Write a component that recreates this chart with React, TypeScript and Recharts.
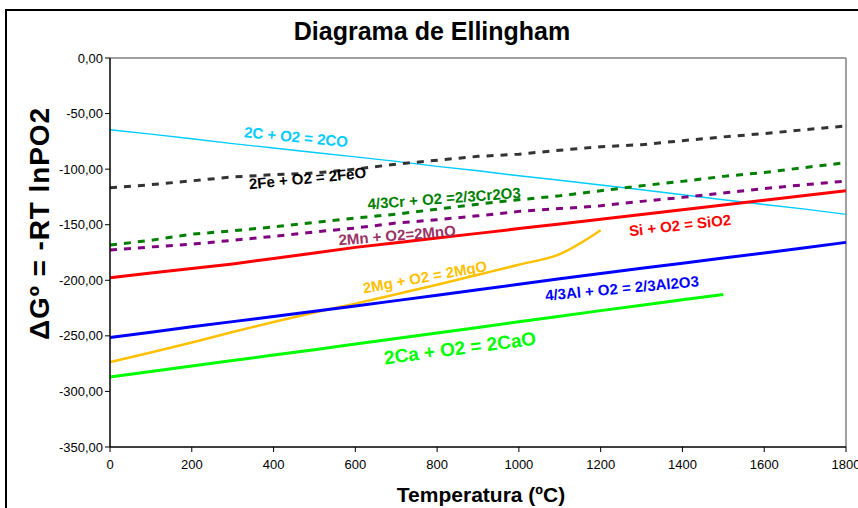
import React from 'react';
import { LineChart, Line, XAxis, YAxis, ReferenceLine, ReferenceDot, Customized } from 'recharts';

const temperatures = [0, 100, 200, 300, 400, 500, 600, 700, 800, 900, 1000, 1100, 1200, 1300, 1400, 1500, 1600, 1700, 1800];

const carbonCO = [-64.5, -68.5, -72.6, -77, -81, -85, -89, -93, -97.5, -101.5, -106, -110, -114.3, -118.6, -123, -127.5, -131.8, -136, -140.7];
const ironFeO = [-116.7, -114, -110.5, -107, -105, -103.5, -100, -95.5, -92, -88.5, -86.5, -83, -79.8, -78, -74.4, -71, -68, -64.5, -61.2];
const chromiumCr2O3 = [-168.3, -164, -158.5, -155.5, -152, -148, -144, -140.5, -136, -131.5, -127.5, -124, -119.4, -115, -111, -106.5, -103, -98.5, -94.2];
const manganeseMnO = [-172.8, -170, -167.5, -164, -160.5, -156.5, -153, -148.5, -145.5, -142, -138, -135.5, -133, -129, -125.4, -121.5, -117.5, -114, -110.7];
const siliconSiO2 = [-197.7, -193.5, -189.4, -185.3, -180.4, -175.4, -170.4, -166.2, -162, -157.8, -153.5, -149.3, -145.1, -140.8, -136.6, -132.3, -128, -123.7, -119.4];
const magnesiumMgO = [-273.6, -265, -256, -246.5, -237.5, -229, -221, -212.5, -204, -195, -186, -176.5, -155];
const aluminiumAl2O3 = [-251.4, -246.7, -241.9, -237.2, -232.5, -227.9, -223.2, -218.3, -213.4, -208.5, -203.6, -198.7, -193.8, -189.2, -184.7, -180, -175.4, -170.8, -165.9];
const calciumCaO = [-287.1, -282.1, -277.2, -272.2, -267.3, -262.4, -257.4, -252.4, -247.4, -242.4, -237.4, -232.3, -227.3, -222.4, -217.6, -212.7];

const xTicks = [0, 200, 400, 600, 800, 1000, 1200, 1400, 1600, 1800];
const yTicks = [0, -50, -100, -150, -200, -250, -300, -350];

const data = temperatures.map((t, i) => ({
  t,
  co: carbonCO[i],
  fe: ironFeO[i],
  cr: chromiumCr2O3[i],
  mn: manganeseMnO[i],
  si: siliconSiO2[i],
  mg: magnesiumMgO[i],
  al: aluminiumAl2O3[i],
  ca: calciumCaO[i],
}));

const FONT = '"Liberation Sans", Arial, sans-serif';

const lineLabels = [
  { text: '2C + O2 = 2CO', t: 455, v: -70.8, color: '#00CCFF', angle: 5.3, size: 15 },
  { text: '2Fe + O2 = 2FeO', t: 483, v: -108, color: '#000000', angle: -5.7, size: 15 },
  { text: '4/3Cr + O2 =2/3Cr2O3', t: 817, v: -126, color: '#008000', angle: -4.3, size: 15 },
  { text: '2Mn + O2=2MnO', t: 702, v: -159.3, color: '#993366', angle: -4.7, size: 15 },
  { text: 'Si + O2 = SiO2', t: 1394, v: -150.3, color: '#FF0000', angle: -6.5, size: 15 },
  { text: '2Mg + O2 = 2MgO', t: 770, v: -196.8, color: '#FFC000', angle: -10.3, size: 15 },
  { text: '4/3Al + O2 = 2/3Al2O3', t: 1252, v: -207, color: '#0000FF', angle: -5.4, size: 15 },
  { text: '2Ca + O2 = 2CaO', t: 856, v: -261, color: '#00FF00', angle: -7.4, size: 19 },
];

const fmtY = (v: number) => v.toFixed(2).replace('.', ',');

const Titles = () => (
  <g fontFamily={FONT} fontWeight="bold" fill="#000">
    <text x={432} y={40} fontSize={25} textAnchor="middle">Diagrama de Ellingham</text>
    <text x={481} y={502} fontSize={21} textAnchor="middle">Temperatura (ºC)</text>
    <text
      x={0}
      y={0}
      fontSize={28}
      textAnchor="middle"
      textLength={232}
      lengthAdjust="spacing"
      transform="translate(49,224) rotate(-90)"
    >
      ΔGº = -RT lnPO2
    </text>
  </g>
);

export default function App() {
  return (
    <div style={{ position: 'absolute', left: 0, top: 0, width: 858, height: 508, overflow: 'hidden', background: '#fff' }}>
      <div style={{ position: 'absolute', left: 5, top: 9, width: 900, height: 600, border: '2px solid #000', boxSizing: 'border-box' }} />
      <div style={{ position: 'absolute', left: 0, top: 0 }}>
        <LineChart width={858} height={508} data={data} margin={{ top: 58, right: 12, bottom: 31, left: 0 }}>
          <XAxis
            dataKey="t"
            type="number"
            domain={[0, 1800]}
            ticks={xTicks}
            height={30}
            axisLine={{ stroke: '#000', strokeWidth: 1.5 }}
            tickLine={{ stroke: '#000' }}
            tickSize={5}
            tickMargin={8}
            tick={{ fill: '#000', fontSize: 13, fontFamily: FONT }}
            interval={0}
          />
          <YAxis
            type="number"
            domain={[-350, 0]}
            ticks={yTicks}
            width={110}
            axisLine={{ stroke: '#000', strokeWidth: 1.5 }}
            tickLine={{ stroke: '#000' }}
            tickSize={5}
            tickFormatter={fmtY}
            tick={{ fill: '#000', fontSize: 13, fontFamily: FONT }}
            interval={0}
          />
          <ReferenceLine y={0} stroke="#808080" strokeWidth={1.5} />
          <ReferenceLine x={1800} stroke="#808080" strokeWidth={1.5} />
          <Line dataKey="co" stroke="#00CCFF" strokeWidth={1.4} dot={false} type="linear" isAnimationActive={false} />
          <Line dataKey="fe" stroke="#333333" strokeWidth={3} strokeDasharray="7 7" dot={false} type="linear" isAnimationActive={false} />
          <Line dataKey="cr" stroke="#008000" strokeWidth={3} strokeDasharray="7 7" dot={false} type="linear" isAnimationActive={false} />
          <Line dataKey="mn" stroke="#800080" strokeWidth={3} strokeDasharray="7 7" dot={false} type="linear" isAnimationActive={false} />
          <Line dataKey="si" stroke="#FF0000" strokeWidth={3} dot={false} type="linear" isAnimationActive={false} />
          <Line dataKey="mg" stroke="#FFC000" strokeWidth={2.5} dot={false} type="monotone" isAnimationActive={false} />
          <Line dataKey="al" stroke="#0000FF" strokeWidth={3} dot={false} type="linear" isAnimationActive={false} />
          <Line dataKey="ca" stroke="#00FF00" strokeWidth={3} dot={false} type="linear" isAnimationActive={false} />
          {lineLabels.map((l) => (
            <ReferenceDot
              key={l.text}
              x={l.t}
              y={l.v}
              r={0}
              shape={(p: any) => (
                <text
                  x={p.cx}
                  y={p.cy}
                  fill={l.color}
                  fontSize={l.size}
                  fontWeight="bold"
                  fontFamily={FONT}
                  textAnchor="middle"
                  dominantBaseline="central"
                  transform={`rotate(${l.angle}, ${p.cx}, ${p.cy})`}
                >
                  {l.text}
                </text>
              )}
            />
          ))}
          <Customized component={Titles} />
        </LineChart>
      </div>
    </div>
  );
}
